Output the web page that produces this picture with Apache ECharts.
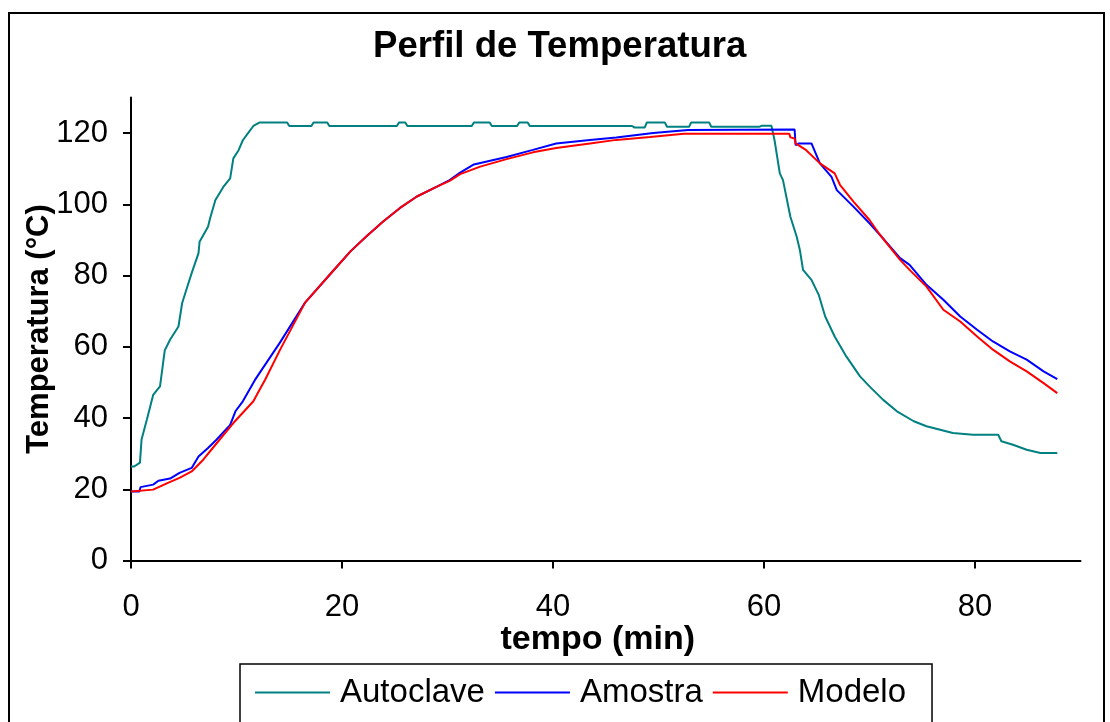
<!DOCTYPE html>
<html>
<head>
<meta charset="utf-8">
<script src="https://cdn.jsdelivr.net/npm/echarts@6/dist/echarts.min.js"></script>
<style>
html,body{margin:0;padding:0;background:#fff;}
#chart{width:1110px;height:722px;}
</style>
</head>
<body>
<div id="chart"></div>
<script>
const titleText = 'Perfil de Temperatura';
const xName = 'tempo (min)';
const yName = 'Temperatura (°C)';
const seriesNames = ['Autoclave', 'Amostra', 'Modelo'];
const xTicks = [0, 20, 40, 60, 80];
const yTicks = [0, 20, 40, 60, 80, 100, 120];

const autoTime = [0, 0.3, 0.85, 1.0, 1.5, 2.1, 2.75, 3.2, 3.7, 4.5, 4.85, 5.3, 5.75, 6.4, 6.5, 7.3, 7.5, 8.0, 8.75, 9.4, 9.7, 10.2, 10.6, 11.2, 11.6, 12.2,
  14.8, 15.0, 17.1, 17.3, 18.6, 18.8, 25.2, 25.4, 26.0, 26.2, 32.3, 32.5, 34.0, 34.2, 36.6, 36.8, 37.6, 37.8, 47.5, 47.7, 48.7, 48.9, 50.6, 50.8,
  52.9, 53.1, 54.8, 55.0, 59.6, 59.8, 60.7, 61.0, 61.5, 61.8, 62.5, 63.1, 63.4, 63.7, 64.5, 65.2, 65.8, 66.7, 67.8, 69.1, 70.0, 71.3, 72.6,
  74.2, 75.4, 77.9, 79.8, 82.2, 82.5, 83.6, 84.9, 86.2, 87.8];
const autoTemp = [26.4, 26.4, 27.5, 34, 39.5, 46.5, 48.9, 59, 62, 65.7, 72.3, 76.5, 80.7, 86.3, 89.5, 93.7, 96.1, 101.2, 104.9, 107.3, 112.9, 115.2, 118, 120.4, 122, 123,
  123, 122, 122, 123, 123, 122, 122, 123, 123, 122, 122, 123, 123, 122, 122, 123, 123, 122, 122, 121.6, 121.6, 123, 123, 121.8,
  121.8, 123, 123, 121.8, 121.8, 122.1, 122.1, 118, 108.7, 106.8, 96.5, 90.9, 87.2, 81.6, 78.8, 74.5, 68.5, 62.9, 57.3, 51.7, 48.9, 45.1, 41.9,
  39.1, 37.7, 35.8, 35.3, 35.3, 33.5, 32.5, 31.1, 30.2, 30.2];

const amostraTime = [0, 0.8, 0.9, 2.1, 2.6, 3.7, 4.6, 5.75, 6.4, 7.3, 8.1, 9.4, 9.9, 10.6, 11.75, 14.1, 16.5, 19, 20.8, 22.3, 23.9, 25.5, 27.1, 29, 30.2,
  31.2, 32.5, 35.6, 38.1, 40.3, 43.5, 46, 49.5, 52.8, 62.9, 63.0, 63.3, 64.5, 65.3, 66.4, 66.9, 68.5, 70, 71, 72.9, 73.8, 75.4, 77, 78.6, 80.2,
  81.7, 83.3, 84.9, 86.5, 87.8];
const amostraTemp = [19.4, 19.4, 20.6, 21.3, 22.4, 23, 24.6, 26, 29.2, 31.6, 33.9, 38.1, 41.9, 44.7, 50.7, 61.1, 72.4, 80.8, 86.8, 91, 95.2, 99, 102.2, 105, 106.8,
  108.9, 111.2, 113.3, 115.3, 117.1, 118.1, 118.8, 120, 120.9, 121, 116.6, 117.1, 117.1, 111.5, 107.7, 104, 99.3, 94.7, 91.4, 84.9, 83, 77.4, 73.2, 68.5, 64.8,
  61.5, 58.7, 56.4, 53.1, 50.9];

const modeloTime = [0, 2.1, 3.5, 4.6, 5.75, 6.85, 8, 9.7, 11.6, 12.2, 12.7, 14.1, 16.5, 19, 20.8, 22.3, 23.9, 25.5, 27.1, 29, 30.2, 31.2, 33.1, 35.6, 38.1,
  40.3, 43.5, 46, 49.2, 52.4, 62.4, 62.5, 62.9, 63.0, 64, 65.3, 66.7, 67.2, 68.5, 70, 71, 72.9, 73.8, 75.4, 77, 78.6, 80.2, 81.7, 83.3, 84.9,
  86.5, 87.8];
const modeloTemp = [19.4, 19.9, 21.8, 23.2, 25, 28.3, 32.5, 38.6, 44.7, 48, 50.7, 59, 72.4, 80.8, 86.8, 91, 95.2, 99, 102.2, 105, 106.6, 108.5, 110.6, 112.7, 114.6,
  115.8, 117.1, 118.1, 118.9, 119.8, 119.8, 118.8, 118.5, 117.1, 115.2, 111.5, 108.7, 105.5, 100.7, 95.6, 91.4, 84.4, 81.6, 76.9, 70.4, 67.1, 62.9, 59.2, 55.9, 53.1,
  49.8, 47];

const colors = ['#008080', '#0000FF', '#FF0000'];

function zip(t, v) { return t.map((x, i) => [x, v[i]]); }

const chart = echarts.init(document.getElementById('chart'));
const FONT = '"Liberation Sans", Arial, sans-serif';

chart.setOption({
  backgroundColor: '#fff',
  animation: false,
  textStyle: { fontFamily: FONT },
  title: {
    text: titleText,
    left: 373,
    top: 28,
    padding: 0,
    textStyle: { fontSize: 36.6, fontWeight: 'bold', color: '#000', fontFamily: FONT }
  },
  graphic: [{
    type: 'rect',
    shape: { x: 9, y: 13, width: 1095, height: 730 },
    style: { fill: 'none', stroke: '#000', lineWidth: 2 },
    silent: true,
    z: 100
  }],
  grid: { left: 131, right: 29.5, top: 97.5, bottom: 161.5, containLabel: false },
  legend: {
    data: seriesNames.map(n => ({ name: n, icon: 'rect' })),
    left: 240,
    top: 664,
    orient: 'horizontal',
    itemWidth: 75,
    itemHeight: 2,
    itemGap: 10,
    padding: [12, 26, 40, 15],
    borderColor: '#000',
    borderWidth: 1.5,
    textStyle: { fontSize: 33, color: '#000', fontFamily: FONT, padding: [0, 0, 0, 5] }
  },
  xAxis: {
    type: 'value',
    min: 0, max: 90, interval: 20,
    name: xName,
    nameLocation: 'middle',
    nameGap: 62,
    nameMoveOverlap: false,
    nameTextStyle: { fontSize: 34, fontWeight: 'bold', color: '#000', fontFamily: FONT, padding: [0, 16, 0, 0] },
    axisLine: { onZero: false, lineStyle: { color: '#000', width: 2 } },
    axisTick: { show: true, inside: false, length: 8, lineStyle: { color: '#000', width: 2 }, customValues: xTicks },
    axisLabel: { fontSize: 31, color: '#000', margin: 31, fontFamily: FONT, customValues: xTicks },
    splitLine: { show: false }
  },
  yAxis: {
    type: 'value',
    min: 0, max: 130, interval: 20,
    name: yName,
    nameLocation: 'middle',
    nameRotate: 90,
    nameGap: 76,
    nameMoveOverlap: false,
    nameTextStyle: { fontSize: 31, fontWeight: 'bold', color: '#000', fontFamily: FONT },
    axisLine: { show: true, onZero: false, lineStyle: { color: '#000', width: 2 } },
    axisTick: { show: true, inside: false, length: 8, lineStyle: { color: '#000', width: 2 }, customValues: yTicks },
    axisLabel: { fontSize: 31, color: '#000', margin: 23, fontFamily: FONT, customValues: yTicks },
    splitLine: { show: false }
  },
  series: [
    { name: seriesNames[0], type: 'line', data: zip(autoTime, autoTemp), symbol: 'none', lineStyle: { color: colors[0], width: 2 }, itemStyle: { color: colors[0] } },
    { name: seriesNames[1], type: 'line', data: zip(amostraTime, amostraTemp), symbol: 'none', lineStyle: { color: colors[1], width: 2 }, itemStyle: { color: colors[1] } },
    { name: seriesNames[2], type: 'line', data: zip(modeloTime, modeloTemp), symbol: 'none', lineStyle: { color: colors[2], width: 2 }, itemStyle: { color: colors[2] } }
  ]
});
</script>
</body>
</html>
